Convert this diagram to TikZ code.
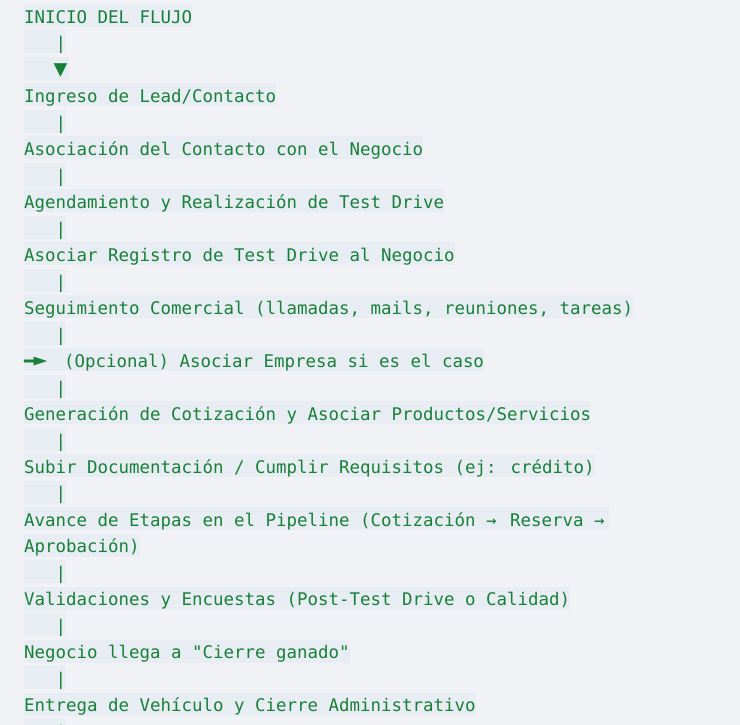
\documentclass[tikz,border=0pt]{standalone}
\usepackage{fontspec}
\newfontfamily\codigo{DejaVu Sans Mono}

\definecolor{fondo}{RGB}{240,242,245}
\definecolor{resalte}{RGB}{232,237,244}
\definecolor{verde}{RGB}{24,128,56}

\newcommand*{\xIzq}{24}
\newcommand*{\simbolo}[1]{{\fontsize{23}{0}\selectfont #1}}

\tikzset{
	linea/.style={anchor=base west, inner xsep=0pt, inner ysep=0pt,
		text height=19.3pt, text depth=3.7pt, fill=resalte, text=verde,
		font=\codigo\fontsize{17.44}{26.48}\selectfont}
}

\begin{document}
\begin{tikzpicture}[x=1pt,y=-1pt]
	% background
	\fill[fondo] (0,0) rectangle (740,725);
	\clip (0,0) rectangle (740,725);
	
	% start
	\node[linea] (inicio) at(\xIzq,23.3) {INICIO DEL FLUJO};
	\node[linea] (p1) at(\xIzq,49.8) {~~~|};
	\node[linea] (f1) at(\xIzq,76.3) {~~~\kern-2pt\simbolo{▼}\kern1pt};
	
	% steps
	\node[linea] (lead) at(\xIzq,102.7) {Ingreso de Lead/Contacto};
	\node[linea] (p2) at(\xIzq,129.2) {~~~|};
	\node[linea] (asoc) at(\xIzq,155.7) {Asociación del Contacto con el Negocio};
	\node[linea] (p3) at(\xIzq,182.2) {~~~|};
	\node[linea] (agenda) at(\xIzq,208.7) {Agendamiento y Realización de Test Drive};
	\node[linea] (p4) at(\xIzq,235.1) {~~~|};
	\node[linea] (registro) at(\xIzq,261.6) {Asociar Registro de Test Drive al Negocio};
	\node[linea] (p5) at(\xIzq,288.1) {~~~|};
	\node[linea] (seguim) at(\xIzq,314.6) {Seguimiento Comercial (llamadas, mails, reuniones, tareas)};
	\node[linea] (p6) at(\xIzq,341.1) {~~~|};
	\node[linea] (empresa) at(\xIzq,367.5) {━\kern-1pt\simbolo{►}\kern6pt~(Opcional) Asociar Empresa si es el caso};
	\node[linea] (p7) at(\xIzq,394.0) {~~~|};
	\node[linea] (cotiz) at(\xIzq,420.5) {Generación de Cotización y Asociar Productos/Servicios};
	\node[linea] (p8) at(\xIzq,447.0) {~~~|};
	\node[linea] (docs) at(\xIzq,473.5) {Subir Documentación / Cumplir Requisitos (ej: crédito)};
	\node[linea] (p9) at(\xIzq,499.9) {~~~|};
	
	% wrapped line
	\node[linea] (etapas) at(\xIzq,526.4) {Avance de Etapas en el Pipeline (Cotización →\kern3pt~Reserva →\kern4pt};
	\node[linea] (etapas2) at(\xIzq,552.9) {Aprobación)};
	\node[linea] (p10) at(\xIzq,579.4) {~~~|};
	
	\node[linea] (valid) at(\xIzq,605.9) {Validaciones y Encuestas (Post-Test Drive o Calidad)};
	\node[linea] (p11) at(\xIzq,632.3) {~~~|};
	\node[linea] (cierre) at(\xIzq,658.8) {Negocio llega a "Cierre ganado"};
	\node[linea] (p12) at(\xIzq,685.3) {~~~|};
	\node[linea] (entrega) at(\xIzq,711.8) {Entrega de Vehículo y Cierre Administrativo};
	\node[linea] (p13) at(\xIzq,738.3) {~~~|};
	
\end{tikzpicture}
\end{document}
